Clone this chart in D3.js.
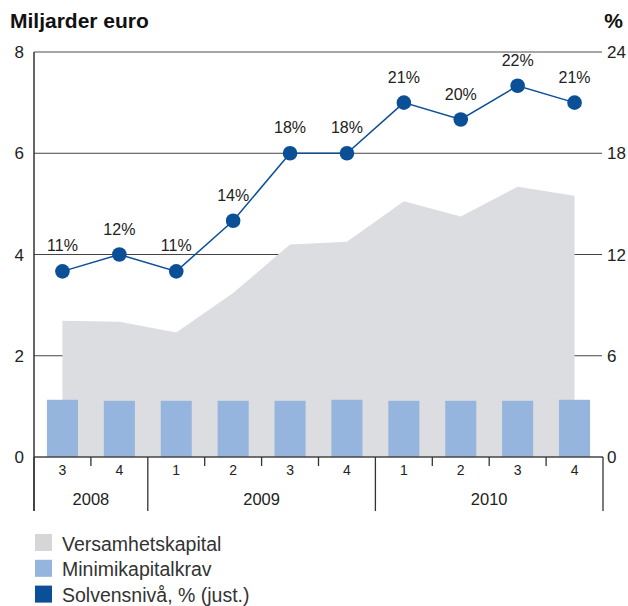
<!DOCTYPE html>
<html>
<head>
<meta charset="utf-8">
<script src="https://cdn.jsdelivr.net/npm/d3@7/dist/d3.min.js"></script>
<style>
  html, body { margin: 0; padding: 0; background: #fff; }
  svg { display: block; font-family: "Liberation Sans", Arial, sans-serif; }
</style>
</head>
<body>
<svg id="chart" width="628" height="606"></svg>
<script>
// ---- data ----
const quarters = ["3", "4", "1", "2", "3", "4", "1", "2", "3", "4"];
const years = ["2008", "2008", "2009", "2009", "2009", "2009", "2010", "2010", "2010", "2010"];
const yearLabels = ["2008", "2009", "2010"];
const versamhetskapital = [2.69, 2.67, 2.46, 3.24, 4.20, 4.25, 5.05, 4.75, 5.34, 5.16];
const minimikapitalkrav = [1.13, 1.11, 1.11, 1.11, 1.11, 1.13, 1.11, 1.11, 1.11, 1.13];
const solvensniva = [11, 12, 11, 14, 18, 18, 21, 20, 22, 21];
const leftTicks = [0, 2, 4, 6, 8];
const rightTicks = [0, 6, 12, 18, 24];
const legendLabels = ["Versamhetskapital", "Minimikapitalkrav", "Solvensnivå, % (just.)"];

// ---- layout ----
const svg = d3.select("#chart");
const L = 34, R = 603, T = 52, B = 457;
const colGray = "#dcdde0", colBar = "#95b4de", colDot = "#0b4f97", colText = "#222";
const keys = quarters.map((q, i) => i);

const x = d3.scaleBand().domain(keys).range([L, R]).padding(0);
const y = d3.scaleLinear().domain([0, 8]).range([B, T]);
const y2 = d3.scaleLinear().domain([0, 24]).range([B, T]);
const cx = i => x(i) + x.bandwidth() / 2;

// titles
svg.append("text").attr("x", 10).attr("y", 28).attr("font-size", 21).attr("font-weight", "bold")
  .attr("fill", "#111").text("Miljarder euro");
svg.append("text").attr("x", 623).attr("y", 28).attr("font-size", 21).attr("font-weight", "bold")
  .attr("text-anchor", "end").attr("fill", "#111").text("%");

// gridlines
svg.append("g").selectAll("line").data(leftTicks.filter(d => d > 0)).join("line")
  .attr("x1", L).attr("x2", R - 1).attr("y1", d => y(d)).attr("y2", d => y(d))
  .attr("stroke", d => d === 8 ? "#888" : "#444").attr("stroke-width", d => d === 8 ? 1.5 : 1);

// area
const area = d3.area().x((d, i) => cx(i)).y0(y(0)).y1(d => y(d));
svg.append("path").datum(versamhetskapital).attr("d", area).attr("fill", colGray);

// bars
const barW = x.bandwidth() * 0.545;
svg.append("g").selectAll("rect").data(minimikapitalkrav).join("rect")
  .attr("x", (d, i) => cx(i) - barW / 2).attr("width", barW)
  .attr("y", d => y(d)).attr("height", d => y(0) - y(d)).attr("fill", colBar);

// baseline
svg.append("line").attr("x1", L).attr("x2", R).attr("y1", B).attr("y2", B)
  .attr("stroke", "#444").attr("stroke-width", 1.5);
// left axis line
svg.append("line").attr("x1", L).attr("x2", L).attr("y1", T).attr("y2", 511)
  .attr("stroke", "#333").attr("stroke-width", 1.5);

// left tick labels
svg.append("g").selectAll("text").data(leftTicks).join("text")
  .attr("x", 24).attr("y", d => y(d)).attr("dy", "0.36em").attr("text-anchor", "end")
  .attr("font-size", 17).attr("fill", colText).text(d => d);
// right tick labels
svg.append("g").selectAll("text").data(rightTicks).join("text")
  .attr("x", 607).attr("y", d => y2(d)).attr("dy", "0.36em").attr("text-anchor", "start")
  .attr("font-size", 17).attr("fill", colText).text(d => d);

// category axis ticks
const boundaries = d3.range(quarters.length + 1);
svg.append("g").selectAll("line").data(boundaries).join("line")
  .attr("x1", k => k < quarters.length ? x(k) : x(k - 1) + x.bandwidth())
  .attr("x2", k => k < quarters.length ? x(k) : x(k - 1) + x.bandwidth())
  .attr("y1", B)
  .attr("y2", k => (k === 0 || k === quarters.length || years[k] !== years[k - 1]) ? 511 : 466)
  .attr("stroke", "#333").attr("stroke-width", 1.3);

svg.append("g").selectAll("text").data(quarters).join("text")
  .attr("x", (d, i) => cx(i)).attr("y", 475).attr("text-anchor", "middle")
  .attr("font-size", 14).attr("fill", colText).text(d => d);

svg.append("g").selectAll("text").data(yearLabels).join("text")
  .attr("x", yr => {
    const idx = keys.filter(i => years[i] === yr);
    return (x(idx[0]) + x(idx[idx.length - 1]) + x.bandwidth()) / 2;
  })
  .attr("y", 505).attr("text-anchor", "middle")
  .attr("font-size", 16.5).attr("fill", colText).text(d => d);

// line + dots
const line = d3.line().x((d, i) => cx(i)).y(d => y2(d));
svg.append("path").datum(solvensniva).attr("d", line).attr("fill", "none")
  .attr("stroke", colDot).attr("stroke-width", 1.5);
svg.append("g").selectAll("circle").data(solvensniva).join("circle")
  .attr("cx", (d, i) => cx(i)).attr("cy", d => y2(d)).attr("r", 7.3).attr("fill", colDot);
svg.append("g").selectAll("text").data(solvensniva).join("text")
  .attr("x", (d, i) => cx(i)).attr("y", d => y2(d) - 20).attr("text-anchor", "middle")
  .attr("font-size", 16).attr("fill", colText).text(d => d + "%");

// legend
const legendColors = ["#d6d6d8", colBar, colDot];
const lg = svg.append("g").selectAll("g").data(legendLabels).join("g")
  .attr("transform", (d, i) => `translate(35, ${534 + i * 25.8})`);
lg.append("rect").attr("width", 17).attr("height", 17).attr("fill", (d, i) => legendColors[i]);
lg.append("text").attr("x", 27).attr("y", 16.5).attr("font-size", 19.5).attr("fill", "#333").text(d => d);
</script>
</body>
</html>
